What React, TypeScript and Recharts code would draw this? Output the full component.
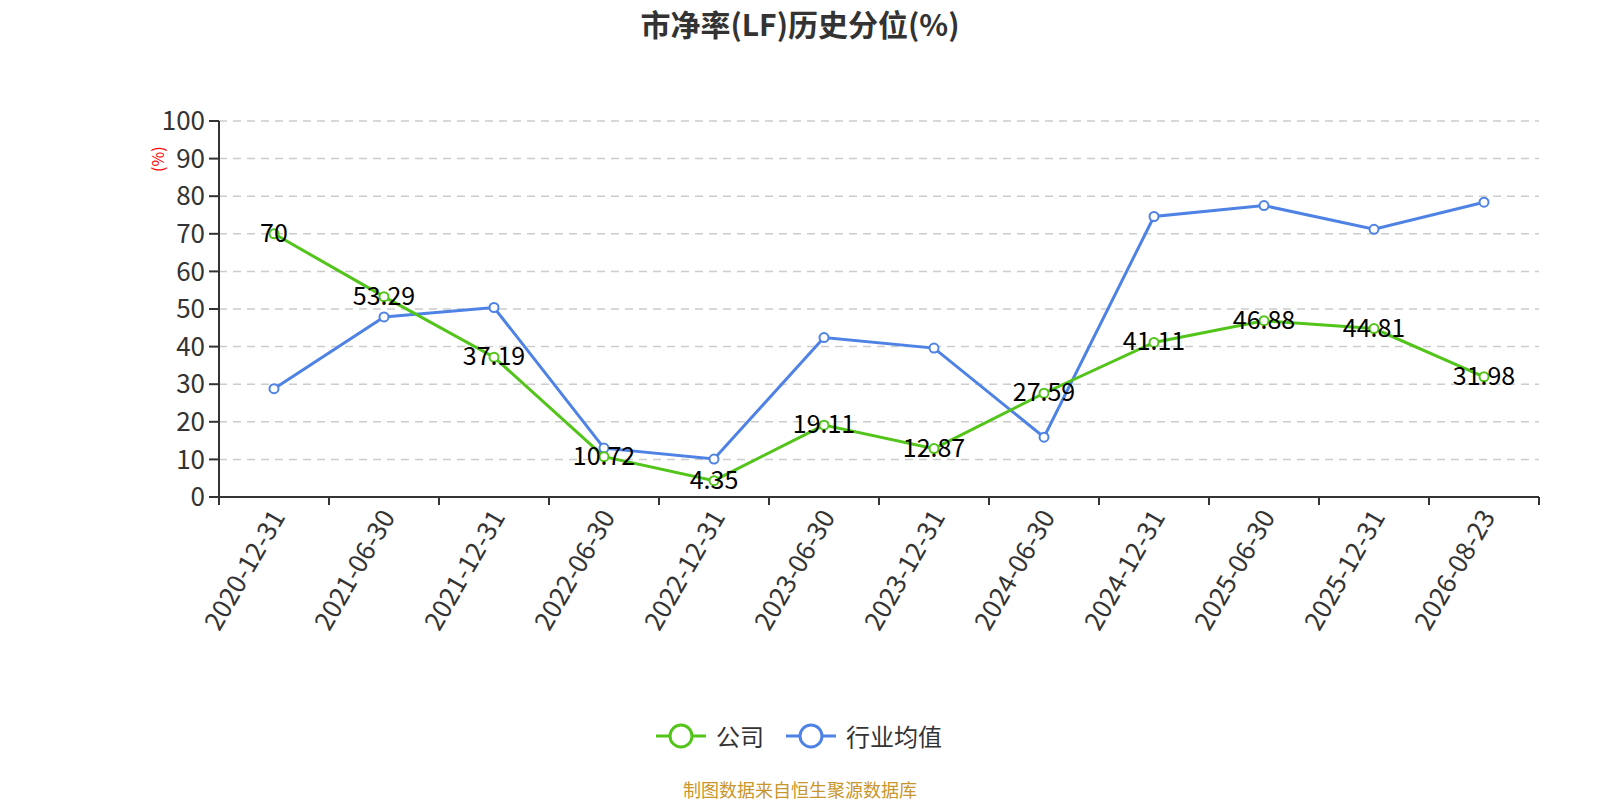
import { CartesianGrid, LabelList, Line, LineChart, XAxis, YAxis } from "recharts";

const dates = [
  "2020-12-31",
  "2021-06-30",
  "2021-12-31",
  "2022-06-30",
  "2022-12-31",
  "2023-06-30",
  "2023-12-31",
  "2024-06-30",
  "2024-12-31",
  "2025-06-30",
  "2025-12-31",
  "2026-08-23",
];
const company = [70, 53.29, 37.19, 10.72, 4.35, 19.11, 12.87, 27.59, 41.11, 46.88, 44.81, 31.98];
const industry = [28.8, 47.9, 50.4, 13.0, 10.1, 42.4, 39.6, 15.9, 74.6, 77.5, 71.2, 78.4];
const yTicks = [0, 10, 20, 30, 40, 50, 60, 70, 80, 90, 100];

const GREEN = "#52c41a";
const BLUE = "#4e82e4";
const FONT = "'Noto Sans CJK SC', 'Noto Sans', sans-serif";

const rows = dates.map((d, i) => ({ date: d, company: company[i], industry: industry[i] }));

function DateTick(props: any) {
  const { x, y, payload, index } = props;
  const half = payload?.offset ?? 55;
  return (
    <g>
      <line x1={x - half} y1={y} x2={x - half} y2={y + 8} stroke="#333" strokeWidth={2} />
      {index === dates.length - 1 && (
        <line x1={x + half} y1={y} x2={x + half} y2={y + 8} stroke="#333" strokeWidth={2} />
      )}
      <text
        transform={`translate(${x + 2},${y + 14}) rotate(-60)`}
        textAnchor="end"
        dominantBaseline="central"
        fontSize={26}
        fill="#333"
        fontFamily={FONT}
      >
        {payload.value}
      </text>
    </g>
  );
}

function ValueLabel(props: any) {
  const { x, y, value } = props;
  return (
    <text x={x} y={y - 3} textAnchor="middle" dominantBaseline="central" fontSize={25} fill="#000" fontFamily={FONT}>
      {value}
    </text>
  );
}

function LegendItem({ color, label }: { color: string; label: string }) {
  return (
    <div style={{ display: "flex", alignItems: "center", marginRight: 22 }}>
      <svg width={50} height={26}>
        <line x1={0} y1={13} x2={50} y2={13} stroke={color} strokeWidth={3} />
        <circle cx={25} cy={13} r={11} fill="#fff" stroke={color} strokeWidth={3} />
      </svg>
      <span style={{ marginLeft: 10, fontSize: 24, color: "#333" }}>{label}</span>
    </div>
  );
}

export default function App() {
  return (
    <div style={{ position: "absolute", left: 0, top: 0, width: 1600, height: 800, background: "#fff", fontFamily: FONT }}>
      <div
        style={{
          position: "absolute",
          top: 3,
          width: 1600,
          textAlign: "center",
          fontSize: 30,
          fontWeight: 700,
          color: "#333",
          lineHeight: "40px",
        }}
      >
        市净率(LF)历史分位(%)
      </div>
      <LineChart width={1600} height={800} data={rows} margin={{ top: 121, right: 61, left: 0, bottom: 153 }}>
        <CartesianGrid horizontal vertical={false} stroke="#ccc" strokeDasharray="8 6" strokeWidth={1.5} />
        <XAxis
          dataKey="date"
          scale="band"
          interval={0}
          height={150}
          tickLine={false}
          tickSize={0}
          tickMargin={0}
          axisLine={{ stroke: "#333", strokeWidth: 2 }}
          tick={<DateTick />}
        />
        <YAxis
          width={219}
          domain={[0, 100]}
          ticks={yTicks}
          interval={0}
          tickSize={10}
          tickMargin={4}
          axisLine={{ stroke: "#333", strokeWidth: 2 }}
          tickLine={{ stroke: "#333", strokeWidth: 2 }}
          tick={{ fontSize: 26, fill: "#333", fontFamily: FONT }}
          label={{
            value: "(%)",
            angle: -90,
            position: "insideTopLeft",
            dx: 148,
            dy: 46,
            fill: "red",
            fontSize: 16,
            fontFamily: FONT,
          }}
        />
        <Line
          dataKey="industry"
          name="行业均值"
          stroke={BLUE}
          strokeWidth={3}
          dot={{ r: 4.5, fill: "#fff", stroke: BLUE, strokeWidth: 2 }}
          activeDot={false}
          isAnimationActive={false}
        />
        <Line
          dataKey="company"
          name="公司"
          stroke={GREEN}
          strokeWidth={3}
          dot={{ r: 4.5, fill: "#fff", stroke: GREEN, strokeWidth: 2 }}
          activeDot={false}
          isAnimationActive={false}
        >
          <LabelList dataKey="company" content={<ValueLabel />} />
        </Line>
      </LineChart>
      <div style={{ position: "absolute", top: 718, left: 10, width: 1600, display: "flex", justifyContent: "center" }}>
        <LegendItem color={GREEN} label="公司" />
        <LegendItem color={BLUE} label="行业均值" />
      </div>
      <div style={{ position: "absolute", top: 777, width: 1600, textAlign: "center", fontSize: 18, color: "#c8962d", lineHeight: "24px" }}>
        制图数据来自恒生聚源数据库
      </div>
    </div>
  );
}
